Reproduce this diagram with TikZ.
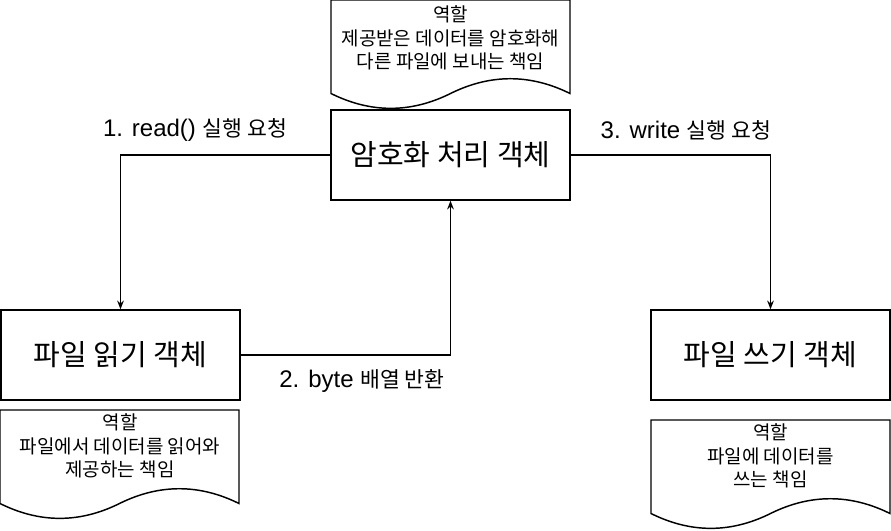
\documentclass[tikz,border=0pt]{standalone}
\usepackage{fontspec}
\setmainfont{Liberation Sans}
\newfontfamily\kr{Noto Sans CJK KR}[Scale=0.9]
\usetikzlibrary{arrows.meta}
\begin{document}
\begin{tikzpicture}[x=.75pt,y=-.75pt,line width=1.1pt,
  objbox/.style={draw,minimum width=179.25pt,minimum height=67.5pt,inner sep=0pt,
    font=\fontsize{24.2}{28}\selectfont\kr},
  flowlbl/.style={inner sep=0pt,font=\fontsize{18}{21}\selectfont},
  roletxt/.style={inner sep=0pt,align=center,font=\fontsize{15.8}{17.4}\selectfont\kr},
  flow/.style={-{Stealth[length=6.5pt,width=5pt]}}]
  \useasboundingbox (0,0) rectangle (891,531);
  % document shapes
  \foreach \x/\y in {331/0,0/410,651/420}
    \draw[shift={(\x,\y)}] (0,93.5)--(0,0)--(239,0)--(239,93.5)
      .. controls (199.3,73.8) and (159.3,73.8) .. (119.5,93.5)
      .. controls (79.7,113.3) and (39.8,113.3) .. (0,93.5)--cycle;
  \node[roletxt] (crole) at (450.5,38) {역할\\제공받은 데이터를 암호화해\\다른 파일에 보내는 책임};
  \node[roletxt] (rrole) at (120,446) {역할\\파일에서 데이터를 읽어와\\제공하는 책임};
  \node[roletxt] (wrole) at (770.5,456) {역할\\파일에 데이터를\\쓰는 책임};
  % objects
  \node[objbox] (crypt) at (450.5,155) {암호화 처리 객체};
  \node[objbox] (reader) at (120.5,355) {파일 읽기 객체};
  \node[objbox] (writer) at (770.5,355) {파일 쓰기 객체};
  % messages
  \draw[flow] (crypt.west) -| (reader.north);
  \draw[flow] (reader.east) -| (crypt.south);
  \draw[flow] (crypt.east) -| (writer.north);
  \node[flowlbl] (readreq) at (195,130) {1. read() {\kr 실행 요청}};
  \node[flowlbl] (bytes) at (362,381) {2. byte {\kr 배열 반환}};
  \node[flowlbl] (writereq) at (686,130) {3. write {\kr 실행 요청}};
\end{tikzpicture}
\end{document}
